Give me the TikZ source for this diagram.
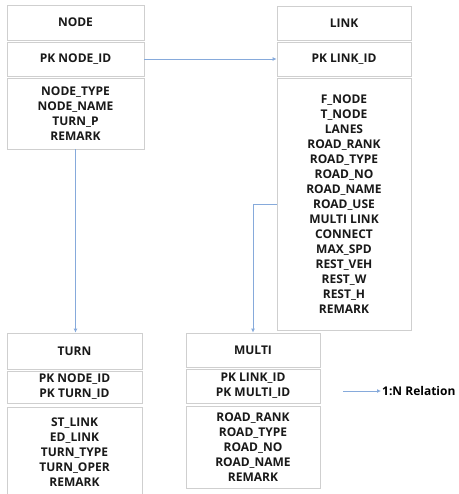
\documentclass[tikz,border=0pt]{standalone}
\usepackage{fontspec}
\setmainfont{Open Sans}
\usetikzlibrary{arrows.meta,shadows}
\definecolor{connc}{HTML}{86AADB}
\definecolor{boxc}{HTML}{CFCFCF}
\definecolor{shadc}{HTML}{A8A8A8}
\tikzset{
  sec/.style={draw=boxc, line width=0.8pt, fill=white, inner sep=0pt, align=center,
    general shadow={fill=shadc, shadow xshift=1.2pt, shadow yshift=-1.2pt},
    font=\bfseries\fontsize{12}{15}\selectfont, text=black!90},
  conn/.style={draw=connc, line width=0.8pt, -{Latex[length=4pt,width=4pt]}},
  lbl/.style={font=\bfseries\fontsize{12}{15}\selectfont, inner sep=1pt}
}
\begin{document}
\begin{tikzpicture}[x=1pt,y=-1pt]
\useasboundingbox (0,0) rectangle (458,494);
\clip (0,0) rectangle (458,494);
% NODE
\node[sec, minimum width=137pt, minimum height=35pt] (ntitle) at (75.5,22.5) {NODE};
\node[sec, minimum width=137pt, minimum height=34pt] (npk) at (75.5,59) {PK NODE\_ID};
\node[sec, minimum width=137pt, minimum height=71pt] (nbody) at (75.5,113.5) {NODE\_TYPE\\NODE\_NAME\\TURN\_P\\REMARK};
% LINK
\node[sec, minimum width=134pt, minimum height=34pt] (ltitle) at (344,23) {LINK};
\node[sec, minimum width=134pt, minimum height=34pt] (lpk) at (344,59) {PK LINK\_ID};
\node[sec, minimum width=134pt, minimum height=252pt] (lbody) at (344,204) {F\_NODE\\T\_NODE\\LANES\\ROAD\_RANK\\ROAD\_TYPE\\ROAD\_NO\\ROAD\_NAME\\ROAD\_USE\\MULTI LINK\\CONNECT\\MAX\_SPD\\REST\_VEH\\REST\_W\\REST\_H\\REMARK};
% TURN
\node[sec, minimum width=135pt, minimum height=36pt] (ttitle) at (74.5,351) {TURN};
\node[sec, minimum width=135pt, minimum height=32pt] (tpk) at (74.5,387) {PK NODE\_ID\\PK TURN\_ID};
\node[sec, minimum width=135pt, minimum height=90pt] (tbody) at (74.5,452) {ST\_LINK\\ED\_LINK\\TURN\_TYPE\\TURN\_OPER\\REMARK};
% MULTI
\node[sec, minimum width=134pt, minimum height=34pt] (mtitle) at (253,350) {MULTI};
\node[sec, minimum width=134pt, minimum height=34pt] (mpk) at (253,386) {PK LINK\_ID\\PK MULTI\_ID};
\node[sec, minimum width=134pt, minimum height=82pt] (mbody) at (253,447) {ROAD\_RANK\\ROAD\_TYPE\\ROAD\_NO\\ROAD\_NAME\\REMARK};
% connectors
\draw[conn] (npk.east) -- (lpk.west);
\draw[conn] (nbody.south) -- (nbody.south |- ttitle.north);
\draw[conn] (lbody.west) -| (mtitle.north);
% legend
\coordinate (la) at (343,391);
\node[lbl, anchor=west] (lt) at (381,391) {1:N Relation};
\draw[conn] (la) -- (lt.west);
\end{tikzpicture}
\end{document}
